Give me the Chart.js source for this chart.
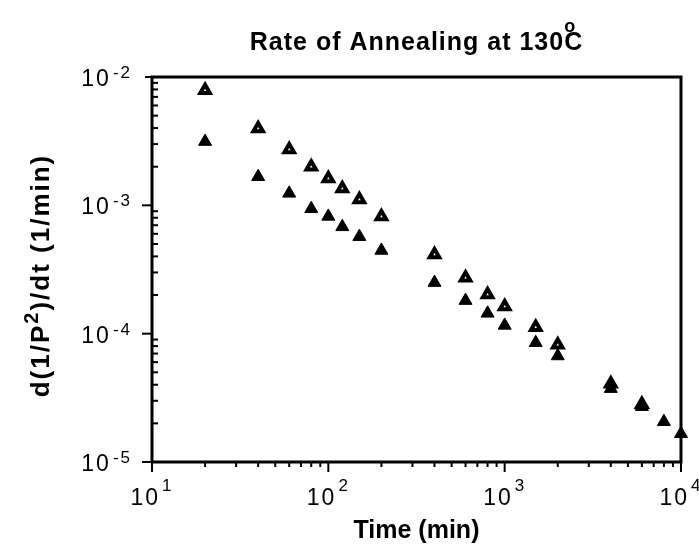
<!DOCTYPE html>
<html>
<head>
<meta charset="utf-8">
<script src="https://cdn.jsdelivr.net/npm/chart.js@4"></script>
<style>
  body { margin: 0; background: #fff; }
  canvas { display: block; }
</style>
</head>
<body>
<canvas id="grafico" width="699" height="549"></canvas>
<script>
//Dados
const tempoAberto = [20, 40, 60, 80, 100, 120, 150, 200, 400, 600, 800, 1000, 1500, 2000, 4000, 6000];
const taxaAberto = [7.9e-3, 3.97e-3, 2.72e-3, 2.0e-3, 1.62e-3, 1.35e-3, 1.11e-3, 8.2e-4, 4.14e-4, 2.73e-4, 2.02e-4, 1.63e-4, 1.12e-4, 8.2e-5, 4.08e-5, 2.82e-5];
const tempoCheio = [20, 40, 60, 80, 100, 120, 150, 200, 400, 600, 800, 1000, 1500, 2000, 4000, 6000, 8000, 10000];
const taxaCheio = [3.14e-3, 1.67e-3, 1.24e-3, 9.4e-4, 8.2e-4, 6.8e-4, 5.7e-4, 4.45e-4, 2.5e-4, 1.81e-4, 1.44e-4, 1.16e-4, 8.5e-5, 6.7e-5, 3.73e-5, 2.7e-5, 2.06e-5, 1.66e-5];

//Rótulos dos eixos (base e expoente)
const ticksX = [10, 100, 1000, 10000];
const expX = ['1', '2', '3', '4'];
const ticksY = [1e-5, 1e-4, 1e-3, 1e-2];
const expY = ['-5', '-4', '-3', '-2'];

const titulo = 'Rate of Annealing at 130';
const tituloX = 'Time (min)';

const fonte = '"Liberation Sans", Arial, sans-serif';

function pontos(xs, ys) {
    return xs.map((x, i) => ({ x: x, y: ys[i] }));
}

//Desenha moldura, marcas, rótulos e títulos
const plugEixos = {
    id: 'eixos',
    afterDraw(chart) {
        const ctx = chart.ctx;
        const a = chart.chartArea;
        const sx = chart.scales.x;
        const sy = chart.scales.y;
        ctx.save();
        ctx.strokeStyle = '#000';
        ctx.fillStyle = '#000';

        //moldura
        ctx.lineWidth = 3;
        ctx.beginPath();
        ctx.moveTo(a.left, a.bottom);
        ctx.lineTo(a.left, a.top);
        ctx.lineTo(a.right, a.top);
        ctx.lineTo(a.right, a.bottom);
        ctx.lineTo(a.left, a.bottom);
        ctx.stroke();

        //marcas do eixo x (para baixo)
        ctx.lineWidth = 2;
        for (let d = 1; d < 4; d++) {
            for (let m = 1; m <= 9; m++) {
                let px = sx.getPixelForValue(m * Math.pow(10, d));
                let len = m == 1 ? 10 : 5;
                ctx.beginPath();
                ctx.moveTo(px, a.bottom);
                ctx.lineTo(px, a.bottom + len);
                ctx.stroke();
            }
        }
        let pxFim = sx.getPixelForValue(10000);
        ctx.beginPath();
        ctx.moveTo(pxFim, a.bottom);
        ctx.lineTo(pxFim, a.bottom + 10);
        ctx.stroke();

        //marcas do eixo y (menores para dentro, maiores para fora)
        for (let d = -5; d < -2; d++) {
            for (let m = 1; m <= 9; m++) {
                let py = sy.getPixelForValue(m * Math.pow(10, d));
                ctx.beginPath();
                if (m == 1) {
                    ctx.moveTo(a.left - 10, py);
                    ctx.lineTo(a.left, py);
                } else {
                    ctx.moveTo(a.left, py);
                    ctx.lineTo(a.left + 6, py);
                }
                ctx.stroke();
            }
        }
        let pyTopo = sy.getPixelForValue(1e-2);
        ctx.beginPath();
        ctx.moveTo(a.left - 7, pyTopo);
        ctx.lineTo(a.left, pyTopo);
        ctx.stroke();

        ctx.textBaseline = 'alphabetic';
        ctx.textAlign = 'left';
        ctx.letterSpacing = '2px';

        //rótulos do eixo x
        for (let i = 0; i < ticksX.length; i++) {
            let px = sx.getPixelForValue(ticksX[i]);
            ctx.font = '23px ' + fonte;
            let wBase = ctx.measureText('10').width;
            ctx.font = '17px ' + fonte;
            let wExp = ctx.measureText(expX[i]).width;
            let x0 = px - (wBase + 2 + wExp) / 2;
            ctx.font = '23px ' + fonte;
            ctx.fillText('10', x0, a.bottom + 43);
            ctx.font = '17px ' + fonte;
            ctx.fillText(expX[i], x0 + wBase + 2, a.bottom + 29);
        }

        //rótulos do eixo y
        for (let i = 0; i < ticksY.length; i++) {
            let py = sy.getPixelForValue(ticksY[i]);
            ctx.font = '17px ' + fonte;
            let wExp = ctx.measureText(expY[i]).width;
            let xExpFim = a.left - 20;
            ctx.fillText(expY[i], xExpFim - wExp, py + 1);
            ctx.font = '23px ' + fonte;
            let wBase = ctx.measureText('10').width;
            ctx.fillText('10', xExpFim - wExp - 2 - wBase, py + 9);
        }

        //título com "o" de grau sobre o C
        let cx = (a.left + a.right) / 2;
        ctx.letterSpacing = '1px';
        ctx.font = 'bold 25px ' + fonte;
        let wT = ctx.measureText(titulo).width;
        let wC = ctx.measureText('C').width;
        let xT = cx - (wT + wC) / 2;
        ctx.fillText(titulo, xT, 50);
        ctx.fillText('C', xT + wT, 50);
        ctx.font = 'bold 18px ' + fonte;
        ctx.fillText('o', xT + wT, 32);

        //título do eixo x
        ctx.letterSpacing = '0px';
        ctx.font = 'bold 25px ' + fonte;
        ctx.textAlign = 'center';
        ctx.fillText(tituloX, cx, 538);

        //título do eixo y (rotacionado, com P ao quadrado)
        let cy = (a.top + a.bottom) / 2;
        ctx.translate(49, cy + 6);
        ctx.rotate(-Math.PI / 2);
        ctx.letterSpacing = '2px';
        const partes = [
            { t: 'd(1/P', f: 'bold 26px ' + fonte, dy: 0 },
            { t: '2', f: 'bold 20px ' + fonte, dy: -11 },
            { t: ')/dt (1/min)', f: 'bold 26px ' + fonte, dy: 0 }
        ];
        let wTot = 0;
        partes.forEach(p => { ctx.font = p.f; wTot += ctx.measureText(p.t).width; });
        let xp = -wTot / 2;
        ctx.textAlign = 'left';
        partes.forEach(p => {
            ctx.font = p.f;
            ctx.fillText(p.t, xp, p.dy);
            xp += ctx.measureText(p.t).width;
        });
        ctx.restore();
    }
};

new Chart(document.getElementById('grafico'), {
    type: 'scatter',
    data: {
        datasets: [
            {
                label: 'cheio',
                data: pontos(tempoCheio, taxaCheio),
                pointStyle: 'triangle',
                pointRadius: 7.5,
                backgroundColor: '#000',
                borderColor: '#000',
                borderWidth: 1
            },
            {
                label: 'aberto',
                data: pontos(tempoAberto, taxaAberto),
                pointStyle: 'triangle',
                pointRadius: 5.5,
                backgroundColor: '#fff',
                borderColor: '#000',
                borderWidth: 4
            }
        ]
    },
    options: {
        responsive: false,
        animation: false,
        clip: false,
        layout: { padding: { top: 77, right: 18, bottom: 0, left: 0 } },
        plugins: {
            legend: { display: false },
            tooltip: { enabled: false },
            title: { display: false }
        },
        scales: {
            x: {
                type: 'logarithmic',
                min: 10,
                max: 10000,
                grid: { display: false },
                border: { display: false },
                ticks: { display: false },
                afterFit: (s) => { s.height = 87; }
            },
            y: {
                type: 'logarithmic',
                min: 1e-5,
                max: 1e-2,
                grid: { display: false },
                border: { display: false },
                ticks: { display: false },
                afterFit: (s) => { s.width = 152; }
            }
        }
    },
    plugins: [plugEixos]
});
</script>
</body>
</html>
